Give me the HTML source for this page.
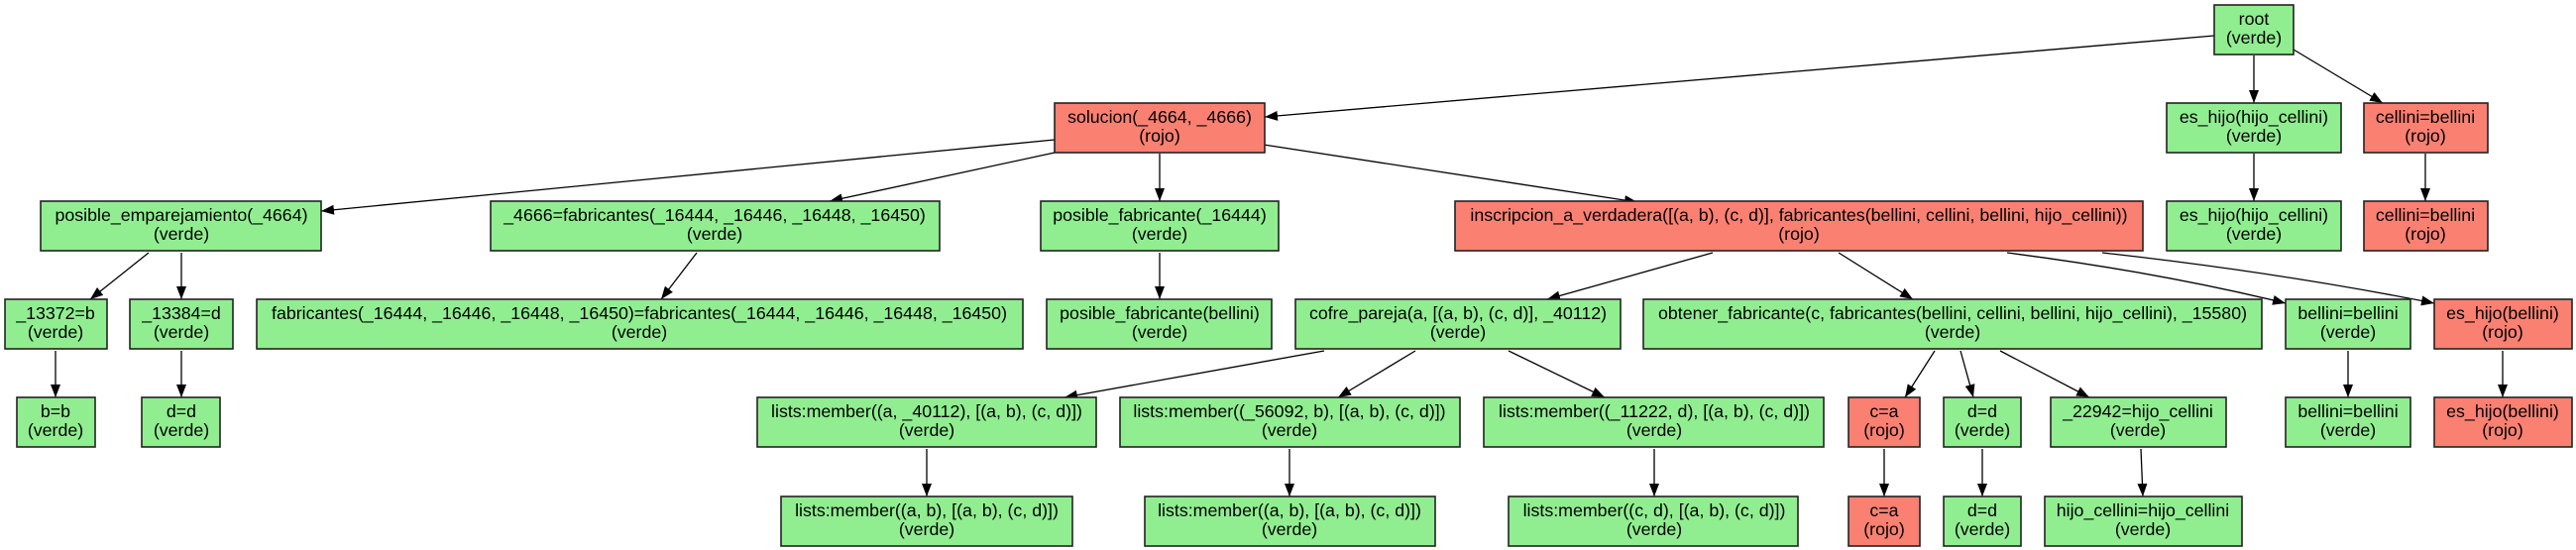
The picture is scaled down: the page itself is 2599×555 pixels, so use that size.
<!DOCTYPE html>
<html><head><meta charset="utf-8"><style>
html,body{margin:0;padding:0;background:#fff;}
svg{display:block;}
text{font-family:"Liberation Sans",Arial,sans-serif;font-size:17.8px;text-anchor:middle;fill:#000;}
.g{fill:#90EE90;stroke:#222;stroke-width:1.6;}
.r{fill:#FA8072;stroke:#222;stroke-width:1.6;}
.e{stroke:#000;stroke-width:1.3;fill:none;marker-end:url(#a);}
</style></head><body>
<svg width="2599" height="555" viewBox="0 0 2599 555" xmlns="http://www.w3.org/2000/svg">
<defs><marker id="a" markerUnits="userSpaceOnUse" markerWidth="14" markerHeight="10" refX="13" refY="5" orient="auto"><path d="M0,0 L13,5 L0,10 Z" fill="#000"/></marker></defs>
<!-- edges -->
<line class="e" x1="2234" y1="36" x2="1276" y2="118"/>
<line class="e" x1="2274" y1="56" x2="2274" y2="104"/>
<line class="e" x1="2314" y1="50" x2="2404" y2="104"/>
<line class="e" x1="1064" y1="141" x2="324" y2="213"/>
<line class="e" x1="1064" y1="154" x2="837" y2="203"/>
<line class="e" x1="1170" y1="155" x2="1170" y2="203"/>
<line class="e" x1="1275" y1="146" x2="1652" y2="204"/>
<line class="e" x1="150" y1="255" x2="91" y2="302"/>
<line class="e" x1="183" y1="255" x2="183" y2="302"/>
<line class="e" x1="703" y1="255" x2="667" y2="302"/>
<line class="e" x1="1170" y1="255" x2="1170" y2="302"/>
<line class="e" x1="56" y1="354" x2="56" y2="401"/>
<line class="e" x1="183" y1="354" x2="183" y2="401"/>
<line class="e" x1="1728" y1="255" x2="1561" y2="302"/>
<line class="e" x1="1855" y1="255" x2="1930" y2="302"/>
<path class="e" d="M2025,255 Q2180,275 2306,306"/>
<path class="e" d="M2121,255 Q2300,275 2456,306"/>
<line class="e" x1="1336" y1="354" x2="1074" y2="401"/>
<line class="e" x1="1428" y1="354" x2="1350" y2="401"/>
<line class="e" x1="1522" y1="354" x2="1619" y2="401"/>
<line class="e" x1="1952" y1="354" x2="1922" y2="401"/>
<line class="e" x1="1978" y1="354" x2="1991" y2="401"/>
<line class="e" x1="2018" y1="354" x2="2108" y2="401"/>
<line class="e" x1="2369" y1="354" x2="2369" y2="401"/>
<line class="e" x1="2525" y1="354" x2="2525" y2="401"/>
<line class="e" x1="935" y1="453" x2="935" y2="501"/>
<line class="e" x1="1301" y1="453" x2="1301" y2="501"/>
<line class="e" x1="1669" y1="453" x2="1669" y2="501"/>
<line class="e" x1="1901" y1="453" x2="1901" y2="501"/>
<line class="e" x1="2000" y1="453" x2="2000" y2="501"/>
<line class="e" x1="2160" y1="453" x2="2162" y2="501"/>
<line class="e" x1="2274" y1="155" x2="2274" y2="203"/>
<line class="e" x1="2447" y1="155" x2="2447" y2="203"/>

<!-- row 0 -->
<rect class="g" x="2234" y="5" width="80" height="50"/><text x="2274" y="25">root</text><text x="2274" y="44">(verde)</text>
<!-- row 1 -->
<rect class="r" x="1064" y="104" width="212" height="50"/><text x="1170" y="124">solucion(_4664, _4666)</text><text x="1170" y="143">(rojo)</text>
<rect class="g" x="2186" y="104" width="176" height="50"/><text x="2274" y="124">es_hijo(hijo_cellini)</text><text x="2274" y="143">(verde)</text>
<rect class="r" x="2385" y="104" width="125" height="50"/><text x="2447" y="124">cellini=bellini</text><text x="2447" y="143">(rojo)</text>
<!-- row 2 -->
<rect class="g" x="41" y="203" width="283" height="50"/><text x="183" y="223">posible_emparejamiento(_4664)</text><text x="183" y="242">(verde)</text>
<rect class="g" x="495" y="203" width="453" height="50"/><text x="721" y="223">_4666=fabricantes(_16444, _16446, _16448, _16450)</text><text x="721" y="242">(verde)</text>
<rect class="g" x="1050" y="203" width="240" height="50"/><text x="1170" y="223">posible_fabricante(_16444)</text><text x="1170" y="242">(verde)</text>
<rect class="r" x="1468" y="203" width="694" height="50"/><text x="1815" y="223">inscripcion_a_verdadera([(a, b), (c, d)], fabricantes(bellini, cellini, bellini, hijo_cellini))</text><text x="1815" y="242">(rojo)</text>
<rect class="g" x="2186" y="203" width="176" height="50"/><text x="2274" y="223">es_hijo(hijo_cellini)</text><text x="2274" y="242">(verde)</text>
<rect class="r" x="2385" y="203" width="125" height="50"/><text x="2447" y="223">cellini=bellini</text><text x="2447" y="242">(rojo)</text>
<!-- row 3 -->
<rect class="g" x="5" y="302" width="103" height="50"/><text x="56" y="322">_13372=b</text><text x="56" y="341">(verde)</text>
<rect class="g" x="131" y="302" width="104" height="50"/><text x="183" y="322">_13384=d</text><text x="183" y="341">(verde)</text>
<rect class="g" x="259" y="302" width="773" height="50"/><text x="645" y="322">fabricantes(_16444, _16446, _16448, _16450)=fabricantes(_16444, _16446, _16448, _16450)</text><text x="645" y="341">(verde)</text>
<rect class="g" x="1056" y="302" width="227" height="50"/><text x="1170" y="322">posible_fabricante(bellini)</text><text x="1170" y="341">(verde)</text>
<rect class="g" x="1307" y="302" width="328" height="50"/><text x="1471" y="322">cofre_pareja(a, [(a, b), (c, d)], _40112)</text><text x="1471" y="341">(verde)</text>
<rect class="g" x="1658" y="302" width="624" height="50"/><text x="1970" y="322">obtener_fabricante(c, fabricantes(bellini, cellini, bellini, hijo_cellini), _15580)</text><text x="1970" y="341">(verde)</text>
<rect class="g" x="2306" y="302" width="126" height="50"/><text x="2369" y="322">bellini=bellini</text><text x="2369" y="341">(verde)</text>
<rect class="r" x="2456" y="302" width="139" height="50"/><text x="2525" y="322">es_hijo(bellini)</text><text x="2525" y="341">(rojo)</text>
<!-- row 4 -->
<rect class="g" x="17" y="401" width="79" height="50"/><text x="56" y="421">b=b</text><text x="56" y="440">(verde)</text>
<rect class="g" x="143" y="401" width="79" height="50"/><text x="183" y="421">d=d</text><text x="183" y="440">(verde)</text>
<rect class="g" x="764" y="401" width="342" height="50"/><text x="935" y="421">lists:member((a, _40112), [(a, b), (c, d)])</text><text x="935" y="440">(verde)</text>
<rect class="g" x="1130" y="401" width="343" height="50"/><text x="1301" y="421">lists:member((_56092, b), [(a, b), (c, d)])</text><text x="1301" y="440">(verde)</text>
<rect class="g" x="1497" y="401" width="343" height="50"/><text x="1669" y="421">lists:member((_11222, d), [(a, b), (c, d)])</text><text x="1669" y="440">(verde)</text>
<rect class="r" x="1865" y="401" width="72" height="50"/><text x="1901" y="421">c=a</text><text x="1901" y="440">(rojo)</text>
<rect class="g" x="1961" y="401" width="78" height="50"/><text x="2000" y="421">d=d</text><text x="2000" y="440">(verde)</text>
<rect class="g" x="2069" y="401" width="177" height="50"/><text x="2157" y="421">_22942=hijo_cellini</text><text x="2157" y="440">(verde)</text>
<rect class="g" x="2306" y="401" width="126" height="50"/><text x="2369" y="421">bellini=bellini</text><text x="2369" y="440">(verde)</text>
<rect class="r" x="2456" y="401" width="139" height="50"/><text x="2525" y="421">es_hijo(bellini)</text><text x="2525" y="440">(rojo)</text>
<!-- row 5 -->
<rect class="g" x="788" y="501" width="294" height="50"/><text x="935" y="521">lists:member((a, b), [(a, b), (c, d)])</text><text x="935" y="540">(verde)</text>
<rect class="g" x="1155" y="501" width="293" height="50"/><text x="1301" y="521">lists:member((a, b), [(a, b), (c, d)])</text><text x="1301" y="540">(verde)</text>
<rect class="g" x="1522" y="501" width="292" height="50"/><text x="1669" y="521">lists:member((c, d), [(a, b), (c, d)])</text><text x="1669" y="540">(verde)</text>
<rect class="r" x="1865" y="501" width="72" height="50"/><text x="1901" y="521">c=a</text><text x="1901" y="540">(rojo)</text>
<rect class="g" x="1961" y="501" width="78" height="50"/><text x="2000" y="521">d=d</text><text x="2000" y="540">(verde)</text>
<rect class="g" x="2063" y="501" width="199" height="50"/><text x="2162" y="521">hijo_cellini=hijo_cellini</text><text x="2162" y="540">(verde)</text>
</svg>
</body></html>
